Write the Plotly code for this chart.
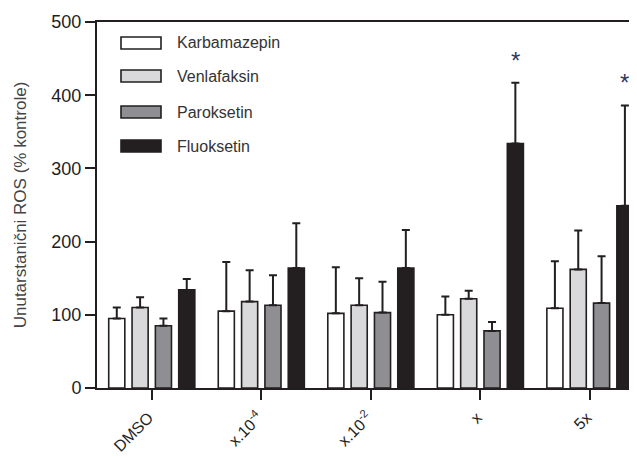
import plotly.graph_objects as go

categories = ["DMSO", "x.10<sup>-4</sup>", "x.10<sup>-2</sup>", "x", "5x"]
series_names = ["Karbamazepin", "Venlafaksin", "Paroksetin", "Fluoksetin"]
karbamazepin = [95, 105, 102, 100, 109]
karbamazepin_err = [15, 67, 63, 25, 64]
venlafaksin = [110, 118, 113, 122, 162]
venlafaksin_err = [14, 43, 37, 11, 53]
paroksetin = [85, 113, 103, 78, 116]
paroksetin_err = [10, 41, 42, 12, 64]
fluoksetin = [134, 164, 164, 334, 249]
fluoksetin_err = [15, 61, 52, 83, 137]
fluoksetin_significant = [False, False, False, True, True]
y_ticks = [0, 100, 200, 300, 400, 500]

values = [karbamazepin, venlafaksin, paroksetin, fluoksetin]
errors = [karbamazepin_err, venlafaksin_err, paroksetin_err, fluoksetin_err]
colors = ["#ffffff", "#d9d9db", "#8f8f93", "#231f20"]

FONT = "Liberation Sans, Arial, sans-serif"

fig = go.Figure()
for name, v, e, c in zip(series_names, values, errors, colors):
    fig.add_trace(go.Bar(
        name=name, x=categories, y=v, marker=dict(color=c, line=dict(color="#231f20", width=1.6)),
        error_y=dict(type="data", symmetric=False, array=e, arrayminus=[0] * len(e),
                     color="#231f20", thickness=2, width=4),
        showlegend=False,
    ))

# significance stars
for i, sig in enumerate(fluoksetin_significant):
    if sig:
        fig.add_annotation(x=categories[i], y=fluoksetin[i] + fluoksetin_err[i], xref="x", yref="y",
                           text="*", showarrow=False, xshift=35, yanchor="bottom", yshift=7,
                           font=dict(family=FONT, size=24, color="#2b3a5e"))

# custom legend (wide boxes); coordinates expressed relative to the plot area
L, T, W, H = 97, 22, 540, 366
def px(x):
    return (x - L) / W
def py(y):
    return (T + H - y) / H
rows = [43, 76, 112, 146]
for name, c, yc in zip(series_names, colors, rows):
    fig.add_shape(type="rect", xref="paper", yref="paper", x0=px(121), x1=px(161),
                  y0=py(yc + 6), y1=py(yc - 6), fillcolor=c, line=dict(color="#231f20", width=1.6))
    fig.add_annotation(xref="paper", yref="paper", x=px(175), y=py(yc), text=name, showarrow=False,
                       xanchor="left", yanchor="middle", font=dict(family=FONT, size=16, color="#333333"))

fig.update_layout(
    width=637, height=457,
    margin=dict(l=89, r=8, t=14, b=77),
    barmode="group", bargap=0.148, bargroupgap=0.31,
    plot_bgcolor="white", paper_bgcolor="white",
    font=dict(family=FONT, color="#222222"),
    xaxis=dict(range=[-0.5, 4.43], showline=True, linecolor="#231f20", linewidth=2, mirror=True,
               ticks="outside", ticklen=10, tickwidth=2, tickcolor="#231f20", automargin=False,
               tickangle=-45, tickfont=dict(size=16, color="#1e1e1e"), showgrid=False, zeroline=False,
               ticklabelstandoff=2, ticklabelshift=-3),
    yaxis=dict(range=[0, 500], tickvals=y_ticks, showline=True, linecolor="#231f20", linewidth=2,
               ticks="outside", ticklen=10, tickwidth=2, tickcolor="#231f20", automargin=False,
               tickfont=dict(size=18, color="#1e1e1e"), showgrid=False, zeroline=False,
               title=dict(text="Unutarstanični ROS (% kontrole)", font=dict(size=17, color="#444444"),
                          standoff=20)),
)

fig.write_html("out.html")
